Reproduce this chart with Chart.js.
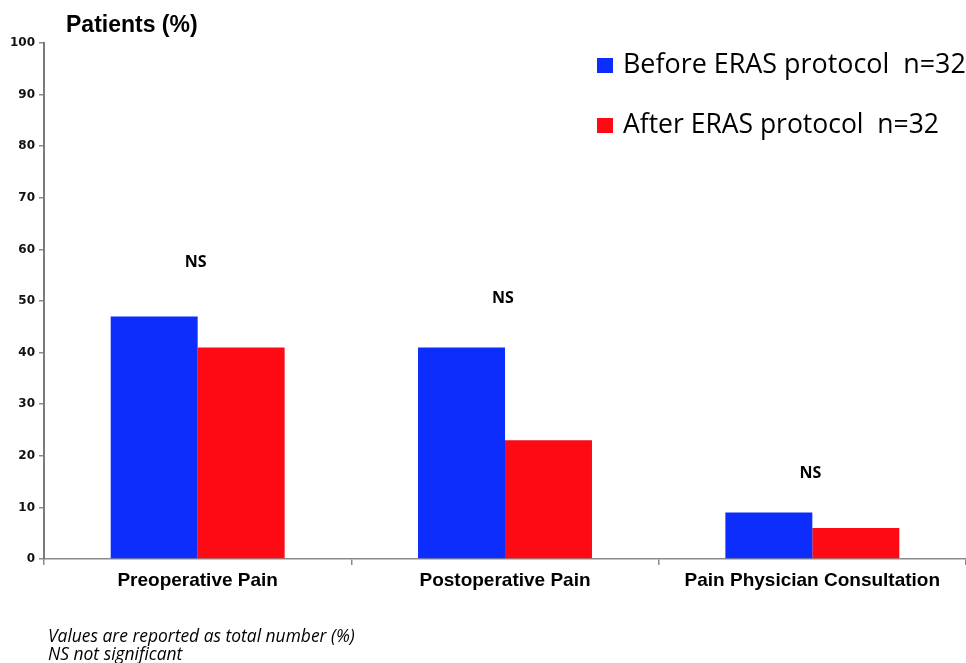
<!DOCTYPE html>
<html>
<head>
<meta charset="utf-8">
<script src="https://cdn.jsdelivr.net/npm/chart.js@4.4.1/dist/chart.umd.min.js"></script>
<style>
  html, body { margin: 0; padding: 0; background: #fff; }
  #wrap { width: 966px; height: 663px; position: relative; }
</style>
</head>
<body>
<div id="wrap"><canvas id="c" width="966" height="663"></canvas></div>
<script>
// ---- Data ----
const categories = ['Preoperative Pain', 'Postoperative Pain', 'Pain Physician Consultation'];
const beforeERAS = [47, 41, 9];
const afterERAS = [41, 23, 6];
const seriesLabels = ['Before ERAS protocol  n=32', 'After ERAS protocol  n=32'];
const nsLabels = ['NS', 'NS', 'NS'];
const nsLevels = [57.5, 50.5, 16.6];
const yAxisTitle = 'Patients (%)';
const footnotes = ['Values are reported as total number (%)', 'NS not significant'];

const BLUE = '#0d2dfd';
const RED = '#fd0a14';

function fitFont(ctx, text, style, family, targetWidth) {
  ctx.font = style + ' 100px ' + family;
  const w = ctx.measureText(text).width;
  const size = 100 * targetWidth / w;
  return style + ' ' + size.toFixed(2) + 'px ' + family;
}

const annotations = {
  id: 'annotations',
  beforeDraw(chart) {
    const ctx = chart.ctx;
    ctx.save();
    ctx.fillStyle = '#fff';
    ctx.fillRect(0, 0, chart.width, chart.height);
    ctx.restore();
  },
  afterDraw(chart) {
    const ctx = chart.ctx;
    const xs = chart.scales.x, ys = chart.scales.y;
    ctx.save();
    // axis title
    ctx.fillStyle = '#000';
    ctx.textAlign = 'left';
    ctx.textBaseline = 'alphabetic';
    ctx.font = 'bold 23px "Liberation Sans", Arial, sans-serif';
    ctx.fillText(yAxisTitle, 66, 32);
    // NS labels
    ctx.textAlign = 'center';
    ctx.textBaseline = 'middle';
    ctx.font = 'bold 16px "Open Sans", sans-serif';
    nsLabels.forEach((t, i) => {
      ctx.fillText(t, xs.getPixelForValue(i) - 2, ys.getPixelForValue(nsLevels[i]));
    });
    // legend
    const ds = chart.data.datasets;
    const legendY = [73, 133];
    ds.forEach((d, i) => {
      ctx.fillStyle = d.backgroundColor;
      ctx.fillRect(597, legendY[i] - 15, 16, 15);
      ctx.fillStyle = '#000';
      ctx.textAlign = 'left';
      ctx.textBaseline = 'alphabetic';
      ctx.font = fitFont(ctx, d.label, 'normal', '"Open Sans", sans-serif', i === 0 ? 343 : 316);
      ctx.fillText(d.label, 623, legendY[i]);
    });
    // footnotes
    ctx.font = fitFont(ctx, footnotes[0], 'italic', '"Open Sans", sans-serif', 307);
    ctx.fillText(footnotes[0], 48, 642);
    ctx.fillText(footnotes[1], 48, 660);
    ctx.restore();
  }
};

new Chart(document.getElementById('c'), {
  type: 'bar',
  data: {
    labels: categories,
    datasets: [
      { label: seriesLabels[0], data: beforeERAS, backgroundColor: BLUE, borderWidth: 0 },
      { label: seriesLabels[1], data: afterERAS, backgroundColor: RED, borderWidth: 0 }
    ]
  },
  options: {
    responsive: false,
    animation: false,
    devicePixelRatio: 1,
    layout: { padding: { top: 43, right: 0, bottom: 0, left: 0 } },
    datasets: { bar: { categoryPercentage: 0.566, barPercentage: 1.0 } },
    plugins: {
      legend: { display: false },
      title: { display: false },
      tooltip: { enabled: false }
    },
    scales: {
      x: {
        grid: { offset: true, drawOnChartArea: false, tickLength: 6, color: '#8a8a8a', lineWidth: 1.5 },
        border: { color: '#8a8a8a', width: 1.5 },
        ticks: {
          color: '#000',
          font: { family: '"Liberation Sans", Arial, sans-serif', weight: 'bold', size: 19 },
          padding: 4, maxRotation: 0, autoSkip: false
        },
        afterFit(s) { s.height = 104; }
      },
      y: {
        min: 0, max: 100,
        grid: { drawOnChartArea: false, tickLength: 5, color: '#8a8a8a', lineWidth: 1.5 },
        border: { color: '#7a7a7a', width: 2 },
        ticks: {
          stepSize: 10, color: '#111', padding: 4,
          font: { family: '"DejaVu Sans", Verdana, sans-serif', weight: 'bold', size: 12 }
        },
        afterFit(s) { s.width = 44; }
      }
    }
  },
  plugins: [annotations]
});
</script>
</body>
</html>
